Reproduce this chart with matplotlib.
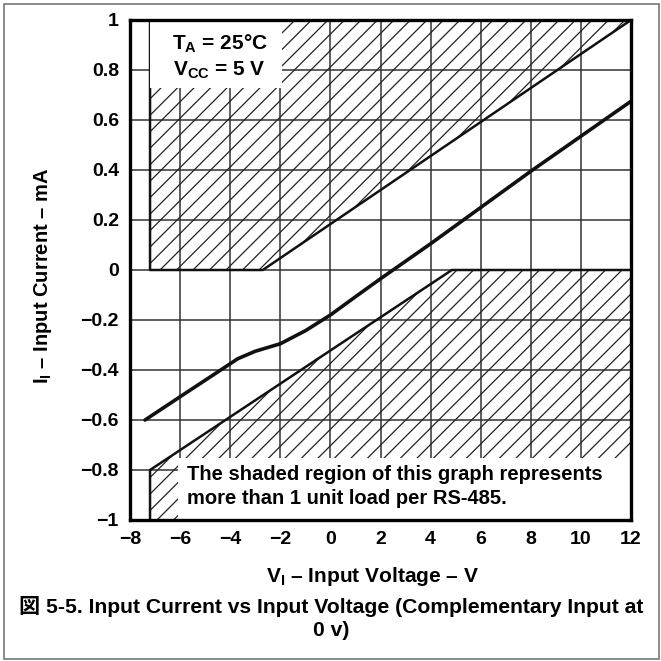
import numpy as np
import matplotlib
matplotlib.use('Agg')
import matplotlib.pyplot as plt
from matplotlib.patches import Rectangle
from matplotlib.collections import LineCollection

plt.rcParams['font.family'] = ['Liberation Sans', 'Noto Sans CJK JP', 'DejaVu Sans']
plt.rcParams['font.weight'] = 'bold'
plt.rcParams['mathtext.fontset'] = 'custom'
plt.rcParams['mathtext.rm'] = 'Liberation Sans:bold'
plt.rcParams['mathtext.bf'] = 'Liberation Sans:bold'
plt.rcParams['mathtext.it'] = 'Liberation Sans:bold'

# Data
x_ticks = [-8, -6, -4, -2, 0, 2, 4, 6, 8, 10, 12]
x_ticklabels = ['\u22128', '\u22126', '\u22124', '\u22122', '0', '2', '4', '6', '8', '10', '12']
y_ticks = [-1, -0.8, -0.6, -0.4, -0.2, 0, 0.2, 0.4, 0.6, 0.8, 1]
y_ticklabels = ['\u22121', '\u22120.8', '\u22120.6', '\u22120.4', '\u22120.2', '0',
                '0.2', '0.4', '0.6', '0.8', '1']

# upper limit of the shaded area (above)
upper_x = [-7.2, -2.7, 12]
upper_y = [0, 0, 1]
# lower limit of the shaded area (below)
lower_x = [-7.2, 4.85, 12]
lower_y = [-0.8, 0, 0]

# measured input current curve
curve_x = [-7.4, -6, -4, -3.7, -3, -2, -1, 0, 1, 2, 4, 6, 8, 10, 12]
curve_y = [-0.6, -0.507, -0.375, -0.355, -0.325, -0.295, -0.243, -0.18, -0.107,
           -0.035, 0.105, 0.25, 0.395, 0.535, 0.675]

fig = plt.figure(figsize=(6.61, 6.61), dpi=100)
ax = fig.add_axes([130/661, 141/661, 501/661, 500/661])

ax.set_xlim(-8, 12)
ax.set_ylim(-1, 1)
ax.set_xticks(x_ticks)
ax.set_xticklabels(x_ticklabels)
ax.set_yticks(y_ticks)
ax.set_yticklabels(y_ticklabels)
ax.tick_params(length=0, labelsize=14, pad=8)
ax.grid(True, color='#333333', linewidth=1.1)
ax.set_axisbelow(True)
for s in ax.spines.values():
    s.set_linewidth(2.4)
    s.set_zorder(6)

# shaded regions, hatched with 45 deg lines clipped to the regions
upper_fill = ax.fill_between(upper_x, upper_y, 1, facecolor='none', linewidth=0, zorder=1)
lower_fill = ax.fill_between(lower_x, -1, lower_y, facecolor='none', linewidth=0, zorder=1)
step = 16.5 / 501
offsets = np.arange(-1.0, 1.0, step)
for fill in [upper_fill, lower_fill]:
    segs = [[(c, 0), (c + 1, 1)] for c in offsets]
    lc = LineCollection(segs, colors='#222222', linewidths=0.9,
                        transform=ax.transAxes, zorder=1)
    ax.add_collection(lc)
    lc.set_clip_path(fill.get_paths()[0], ax.transData)

# boundaries
ax.plot([upper_x[0]] + upper_x, [1] + upper_y, color='#111111', lw=1.8, zorder=2)
ax.plot([lower_x[0]] + lower_x, [-1] + lower_y, color='#111111', lw=1.8, zorder=2)
ax.plot(curve_x, curve_y, color='#111111', lw=2.6, zorder=3,
        solid_capstyle='round', solid_joinstyle='round')

# white text boxes
ax.add_patch(Rectangle((-7.2, 0.73), 5.25, 0.27, facecolor='white', edgecolor='none', zorder=4))
ax.add_patch(Rectangle((-6.08, -1), 18.08, 0.25, facecolor='white', edgecolor='none', zorder=4))

ax.text(-4.4, 0.905, r'$\mathregular{T_A}$ = 25°C', ha='center', va='center', fontsize=15, zorder=5)
ax.text(-4.45, 0.80, r'$\mathregular{V_{CC}}$ = 5 V', ha='center', va='center', fontsize=15, zorder=5)
ax.text(-5.73, -0.866, 'The shaded region of this graph represents\nmore than 1 unit load per RS-485.',
        ha='left', va='center', fontsize=14.5, linespacing=1.3, zorder=5)

fig.text(43/661, 1 - 276/661, r'$\mathregular{I_I}$ – Input Current – mA', rotation=90,
         ha='center', va='center', fontsize=14.5)
fig.text(373/661, 1 - 576/661, r'$\mathregular{V_I}$ – Input Voltage – V',
         ha='center', va='center', fontsize=15)
fig.text(331/661, 1 - 606/661,
         '図 5-5. Input Current vs Input Voltage (Complementary Input at',
         ha='center', va='center', fontsize=15.2)
fig.text(331/661, 1 - 630/661, '0 v)', ha='center', va='center', fontsize=15.2)

fig.patches.append(Rectangle((4/661, 2/661), 655/661, 655/661, transform=fig.transFigure,
                             fill=False, edgecolor='#777777', linewidth=1.2))

fig.savefig('out.png', dpi=100)
